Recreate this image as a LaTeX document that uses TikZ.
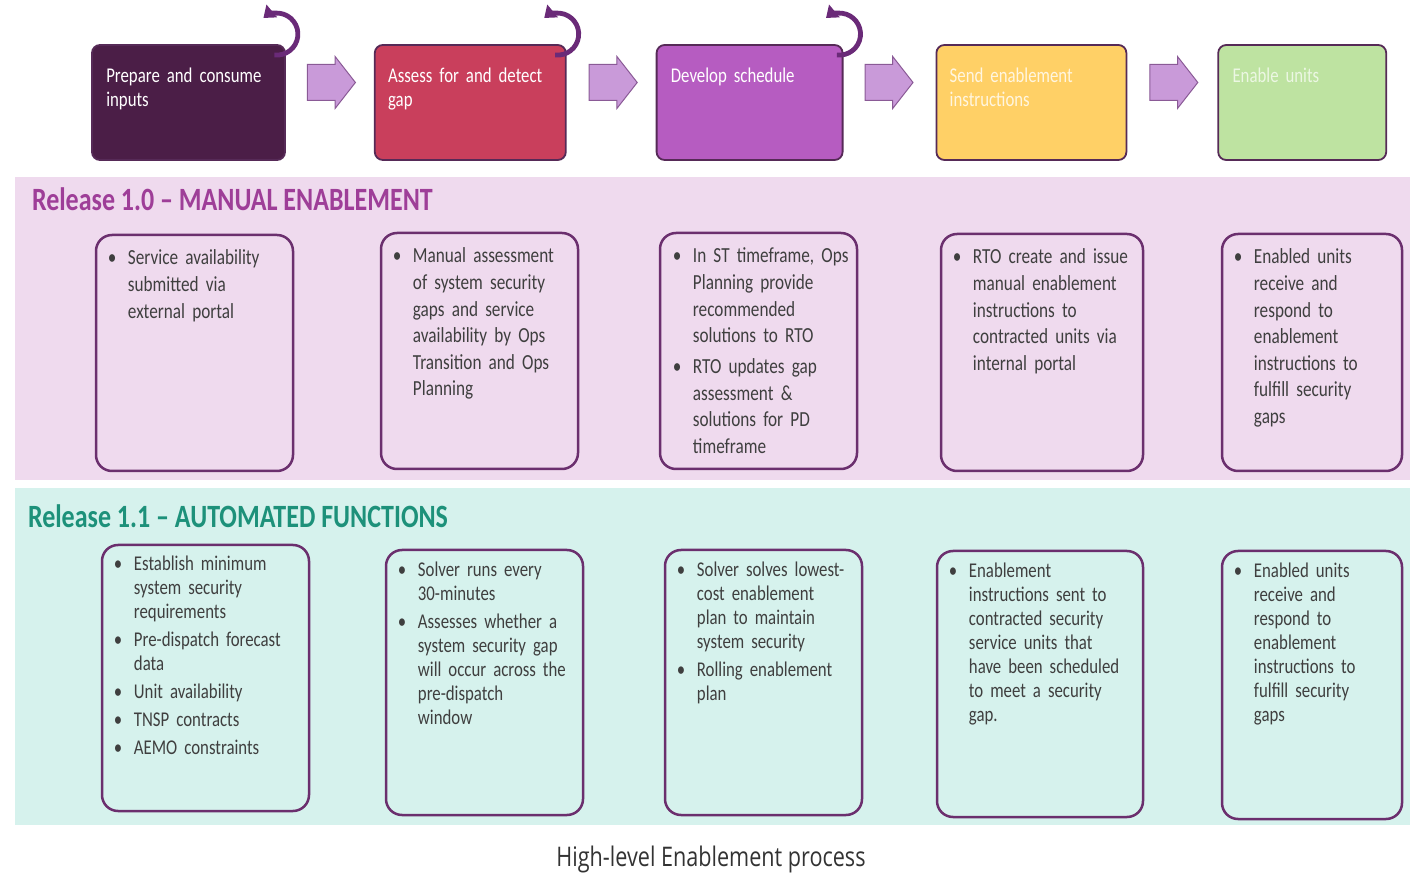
\documentclass[tikz,border=0pt]{standalone}
\usepackage{fontspec}
\setmainfont{Carlito}[FakeStretch=0.8,WordSpace=0.6]
\newfontfamily\titlefont{Carlito}[FakeStretch=0.8,Ligatures=TeX]
\newfontfamily\captionfont{Open Sans}[FakeStretch=0.8]
\usepackage{tikz}
\usetikzlibrary{shapes.arrows, arrows.meta, positioning, calc}
\definecolor{prepfill}{HTML}{4B1E47}
\definecolor{assessfill}{HTML}{C93F5C}
\definecolor{developfill}{HTML}{B65CC1}
\definecolor{sendfill}{HTML}{FFD066}
\definecolor{enablefill}{HTML}{BEE3A1}
\definecolor{stepborder}{HTML}{562A57}
\definecolor{arrowfill}{HTML}{C99AD9}
\definecolor{arrowborder}{HTML}{8A5A96}
\definecolor{loopcolor}{HTML}{6A2A78}
\definecolor{manualfill}{HTML}{EFDAEE}
\definecolor{autofill}{HTML}{D6F2ED}
\definecolor{manualtitle}{HTML}{9E3E98}
\definecolor{autotitle}{HTML}{1D917A}
\definecolor{relborder}{HTML}{6B2F6E}
\definecolor{bodygray}{HTML}{3F3F3F}
\definecolor{captiongray}{HTML}{333333}
\newcommand{\bitem}[1]{\par\hangindent=20pt\hangafter=1\noindent\makebox[20pt][l]{\textbullet}#1\par}
\tikzset{
  stepbox/.style={rectangle,rounded corners=8pt,draw=stepborder,line width=1.8pt,minimum height=115pt,inner sep=0pt},
  steptext/.style={anchor=north west,align=left,text width=190pt,inner sep=0pt,text=white,font=\fontsize{21}{24}\selectfont},
  flowarrow/.style={single arrow,draw=arrowborder,fill=arrowfill,line width=1pt,minimum height=48pt,minimum width=51pt,inner xsep=0pt,inner ysep=17.5pt,single arrow head extend=8pt,single arrow tip angle=104,anchor=tail},
  reloop/.style={draw=loopcolor,line width=4.8pt,-{Triangle[width=16pt,length=11pt]}},
  band/.style={rectangle,draw=none,inner sep=0pt},
  bandtitle/.style={anchor=base west,inner sep=0pt,font=\titlefont\bfseries\fontsize{32.5}{36}\selectfont},
  relbox/.style={rectangle,rounded corners=16pt,draw=relborder,line width=2.5pt,inner sep=0pt},
  reltext/.style={anchor=north west,align=left,text width=200pt,inner sep=0pt,text=bodygray,font=\fontsize{21.5}{26.6}\selectfont\setlength{\parskip}{4.4pt}},
  autotext/.style={reltext,font=\fontsize{21}{24}\selectfont\setlength{\parskip}{4pt}},
}
\begin{document}
\begin{tikzpicture}[x=1pt,y=1pt]
	\useasboundingbox (0,0) rectangle (1415,873);
	% release bands
	\node[band,fill=manualfill,minimum width=1395pt,minimum height=303pt] (manual) at (712.5,544.5) {};
	\node[band,fill=autofill,minimum width=1395pt,minimum height=337pt] (auto) at (712.5,216.5) {};
	\node[bandtitle,text=manualtitle] (manualhead) at ([xshift=17pt,yshift=-34pt]manual.north west) {Release 1.0 -- MANUAL ENABLEMENT};
	\node[bandtitle,text=autotitle] (autohead) at ([xshift=13pt,yshift=-40pt]auto.north west) {Release 1.1 -- AUTOMATED FUNCTIONS};
	% process steps
	\node[stepbox,fill=prepfill,minimum width=193pt] (prep) at (188.5,770.5) {};
	\node[stepbox,fill=assessfill,minimum width=191pt,right=88pt of prep] (assess) {};
	\node[stepbox,fill=developfill,minimum width=186pt,right=89pt of assess] (develop) {};
	\node[stepbox,fill=sendfill,minimum width=190pt,right=92pt of develop] (send) {};
	\node[stepbox,fill=enablefill,minimum width=168pt,right=90pt of send] (enable) {};
	\node[steptext] (preptext) at ([xshift=15pt,yshift=-24pt]prep.north west) {Prepare and consume\newline inputs};
	\node[steptext] (assesstext) at ([xshift=14pt,yshift=-24pt]assess.north west) {Assess for and detect\newline gap};
	\node[steptext] (developtext) at ([xshift=15pt,yshift=-24pt]develop.north west) {Develop schedule};
	\node[steptext,text=white!80!sendfill] (sendtext) at ([xshift=14pt,yshift=-24pt]send.north west) {Send enablement\newline instructions};
	\node[steptext,text=white!70!enablefill] (enabletext) at ([xshift=15pt,yshift=-24pt]enable.north west) {Enable units};
	\node[flowarrow] (prep-assess) at ([xshift=21pt,yshift=20pt]prep.east) {};
	\node[flowarrow] (assess-develop) at ([xshift=22pt,yshift=20pt]assess.east) {};
	\node[flowarrow] (develop-send) at ([xshift=21pt,yshift=20pt]develop.east) {};
	\node[flowarrow] (send-enable) at ([xshift=22pt,yshift=20pt]send.east) {};
	\draw[reloop] ([shift={(-9pt,10pt)}]prep.north east) ++(-97:21pt) arc[start angle=-97,end angle=130,radius=21pt];
	\draw[reloop] ([shift={(-9pt,10pt)}]assess.north east) ++(-97:21pt) arc[start angle=-97,end angle=130,radius=21pt];
	\draw[reloop] ([shift={(-4pt,10pt)}]develop.north east) ++(-97:21pt) arc[start angle=-97,end angle=130,radius=21pt];
	% release 1.0 boxes
	\node[relbox,minimum width=197pt,minimum height=236pt] (manprep) at (194.5,520) {};
	\node[relbox,minimum width=197pt,minimum height=236pt] (manassess) at (479.5,522) {};
	\node[relbox,minimum width=197pt,minimum height=236pt] (mandevelop) at (758.5,522) {};
	\node[relbox,minimum width=202pt,minimum height=237pt] (mansend) at (1042,520.5) {};
	\node[relbox,minimum width=180pt,minimum height=237pt] (manenable) at (1312,520.5) {};
	\node[reltext] (manpreptext) at ([xshift=13pt,yshift=0pt]manprep.north west) {\bitem{Service availability\newline submitted via\newline external portal}};
	\node[reltext] (manassesstext) at ([xshift=13pt,yshift=0pt]manassess.north west) {\bitem{Manual assessment\newline of system security\newline gaps and service\newline availability by Ops\newline Transition and Ops\newline Planning}};
	\node[reltext] (mandeveloptext) at ([xshift=14pt,yshift=0pt]mandevelop.north west) {\bitem{In ST timeframe, Ops\newline Planning provide\newline recommended\newline solutions to RTO}
		\bitem{RTO updates gap\newline assessment \&\newline solutions for PD\newline timeframe}};
	\node[reltext] (mansendtext) at ([xshift=13pt,yshift=0pt]mansend.north west) {\bitem{RTO create and issue\newline manual enablement\newline instructions to\newline contracted units via\newline internal portal}};
	\node[reltext] (manenabletext) at ([xshift=13pt,yshift=0pt]manenable.north west) {\bitem{Enabled units\newline receive and\newline respond to\newline enablement\newline instructions to\newline fulfill security\newline gaps}};
	% release 1.1 boxes
	\node[relbox,minimum width=207pt,minimum height=266pt] (autoprep) at (205.5,195) {};
	\node[relbox,minimum width=197pt,minimum height=265pt] (autoassess) at (484.5,190.5) {};
	\node[relbox,minimum width=197pt,minimum height=265pt] (autodevelop) at (763.5,190.5) {};
	\node[relbox,minimum width=206pt,minimum height=266pt] (autosend) at (1040,189) {};
	\node[relbox,minimum width=180pt,minimum height=268pt] (autoenable) at (1312,188) {};
	\node[autotext] (autopreptext) at ([xshift=13pt,yshift=1pt]autoprep.north west) {\bitem{Establish minimum\newline system security\newline requirements}
		\bitem{Pre-dispatch forecast\newline data}
		\bitem{Unit availability}
		\bitem{TNSP contracts}
		\bitem{AEMO constraints}};
	\node[autotext] (autoassesstext) at ([xshift=13pt,yshift=0pt]autoassess.north west) {\bitem{Solver runs every\newline 30-minutes}
		\bitem{Assesses whether a\newline system security gap\newline will occur across the\newline pre-dispatch\newline window}};
	\node[autotext] (autodeveloptext) at ([xshift=13pt,yshift=0pt]autodevelop.north west) {\bitem{Solver solves lowest-\newline cost enablement\newline plan to maintain\newline system security}
		\bitem{Rolling enablement\newline plan}};
	\node[autotext] (autosendtext) at ([xshift=13pt,yshift=0pt]autosend.north west) {\bitem{Enablement\newline instructions sent to\newline contracted security\newline service units that\newline have been scheduled\newline to meet a security\newline gap.}};
	\node[autotext] (autoenabletext) at ([xshift=13pt,yshift=0pt]autoenable.north west) {\bitem{Enabled units\newline receive and\newline respond to\newline enablement\newline instructions to\newline fulfill security\newline gaps}};
	% caption
	\node[anchor=base,inner sep=0pt,text=captiongray,font=\captionfont\fontsize{27}{30}\selectfont] (caption) at (711,7) {High-level Enablement process};
\end{tikzpicture}
\end{document}
